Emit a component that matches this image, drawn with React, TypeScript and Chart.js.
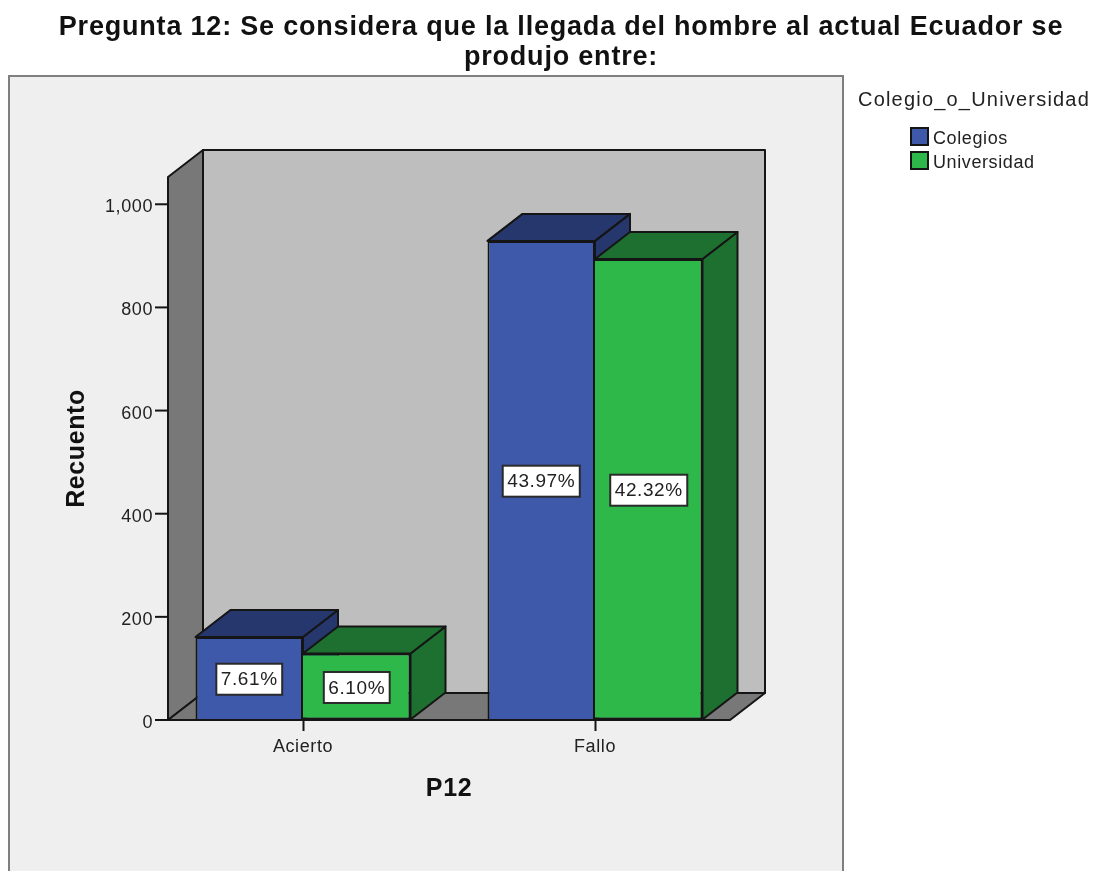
import React, { useEffect, useRef } from "react";
import { Chart, registerables } from "chart.js";

Chart.register(...registerables);

const categories = ["Acierto", "Fallo"];
const colegios = [161, 929];
const universidad = [129, 894];
const colegiosPct = ["7.61%", "43.97%"];
const universidadPct = ["6.10%", "42.32%"];
const titleLines = [
  "Pregunta 12: Se considera que la llegada del hombre al actual Ecuador se",
  "produjo entre:",
];
const legendTitle = "Colegio_o_Universidad";

const FONT = '"Liberation Sans", Arial, sans-serif';
const INK = "#151515";
const TEXT = "#222222";
const DX = 35;
const DY = 27;
const INSET = 11;

const poly = (ctx: CanvasRenderingContext2D, pts: number[][], fill: string) => {
  ctx.beginPath();
  pts.forEach((p, i) => (i ? ctx.lineTo(p[0], p[1]) : ctx.moveTo(p[0], p[1])));
  ctx.closePath();
  ctx.fillStyle = fill;
  ctx.fill();
  ctx.lineWidth = 2;
  ctx.strokeStyle = INK;
  ctx.lineJoin = "round";
  ctx.stroke();
};

const threeD = {
  id: "threeD",
  afterLayout(chart: any) {
    const tb = chart.titleBlock;
    tb.left = 28;
    tb.right = 1094;
    if (!tb.__wrapped) {
      tb.__wrapped = true;
      const draw = tb.draw;
      tb.draw = function (...args: any[]) {
        const c = chart.ctx;
        const prev = c.letterSpacing;
        c.letterSpacing = "0.8px";
        draw.apply(this, args);
        c.letterSpacing = prev;
      };
      const y = chart.scales.y;
      const labels = y.drawLabels;
      y.drawLabels = function (...args: any[]) {
        chart.ctx.save();
        chart.ctx.translate(0, 3);
        labels.apply(this, args);
        chart.ctx.restore();
      };
    }
  },
  beforeDraw(chart: any) {
    const { ctx } = chart;
    ctx.save();
    ctx.fillStyle = "#efefef";
    ctx.fillRect(9, 76, 834, 810);
    ctx.strokeStyle = "#7f7f7f";
    ctx.lineWidth = 2;
    ctx.strokeRect(9, 76, 834, 810);
    ctx.restore();
    ctx.letterSpacing = "0.6px";
  },
  beforeDatasetsDraw(chart: any) {
    const { ctx, chartArea: a, scales } = chart;
    const l = a.left + INSET;
    const r = a.right - INSET;
    const t = a.top;
    const b = a.bottom;
    ctx.save();
    poly(ctx, [[l + DX, t - DY], [r + DX, t - DY], [r + DX, b - DY], [l + DX, b - DY]], "#bebebe");
    poly(ctx, [[l, t], [l + DX, t - DY], [l + DX, b - DY], [l, b]], "#787878");
    poly(ctx, [[l, b], [l + DX, b - DY], [r + DX, b - DY], [r, b]], "#787878");
    ctx.strokeStyle = INK;
    ctx.lineWidth = 2;
    scales.y.ticks.forEach((tk: any) => {
      const y = scales.y.getPixelForValue(tk.value);
      ctx.beginPath();
      ctx.moveTo(l - 13, y);
      ctx.lineTo(l, y);
      ctx.stroke();
    });
    const n = chart.data.labels.length;
    for (let j = 0; j < n; j++) {
      chart.data.datasets.forEach((ds: any, i: number) => {
        const bar = chart.getDatasetMeta(i).data[j];
        const x0 = bar.x - bar.width / 2;
        const x1 = bar.x + bar.width / 2;
        poly(ctx, [[x1, bar.y], [x1 + DX, bar.y - DY], [x1 + DX, bar.base - DY], [x1, bar.base]], ds.shade);
        poly(ctx, [[x0, bar.y], [x0 + DX, bar.y - DY], [x1 + DX, bar.y - DY], [x1, bar.y]], ds.shade);
      });
    }
    ctx.restore();
  },
  afterDatasetsDraw(chart: any) {
    const { ctx, chartArea: a } = chart;
    ctx.save();
    ctx.strokeStyle = INK;
    ctx.lineWidth = 2;
    ctx.beginPath();
    ctx.moveTo(a.left + INSET, a.bottom);
    ctx.lineTo(a.right - INSET, a.bottom);
    ctx.stroke();
    ctx.font = `19px ${FONT}`;
    ctx.textAlign = "center";
    ctx.textBaseline = "middle";
    chart.data.datasets.forEach((ds: any, i: number) => {
      chart.getDatasetMeta(i).data.forEach((bar: any, j: number) => {
        const text = ds.pct[j];
        const w = ctx.measureText(text).width + 9;
        const h = 31;
        const cy = (bar.y + bar.base) / 2 + 1;
        ctx.fillStyle = "#ffffff";
        ctx.strokeStyle = "#2a2a2a";
        ctx.lineWidth = 2;
        ctx.fillRect(bar.x - w / 2, cy - h / 2, w, h);
        ctx.strokeRect(bar.x - w / 2, cy - h / 2, w, h);
        ctx.fillStyle = TEXT;
        ctx.fillText(text, bar.x, cy + 1);
      });
    });
    ctx.textAlign = "left";
    ctx.fillStyle = TEXT;
    ctx.letterSpacing = "1.2px";
    ctx.font = `20px ${FONT}`;
    ctx.fillText(legendTitle, 858, 100);
    ctx.letterSpacing = "0.6px";
    ctx.font = `18px ${FONT}`;
    chart.data.datasets.forEach((ds: any, i: number) => {
      const y = 128 + i * 24;
      ctx.fillStyle = ds.backgroundColor;
      ctx.strokeStyle = INK;
      ctx.lineWidth = 2;
      ctx.fillRect(911, y, 17, 17);
      ctx.strokeRect(911, y, 17, 17);
      ctx.fillStyle = TEXT;
      ctx.fillText(ds.label, 933, y + 11);
    });
    ctx.restore();
  },
};

export default function App() {
  const ref = useRef<HTMLCanvasElement>(null);
  useEffect(() => {
    const chart = new Chart(ref.current as HTMLCanvasElement, {
      type: "bar",
      data: {
        labels: categories,
        datasets: [
          {
            label: "Colegios",
            data: colegios,
            backgroundColor: "#3e58aa",
            shade: "#26376e",
            pct: colegiosPct,
            borderColor: INK,
            borderWidth: 2,
          } as any,
          {
            label: "Universidad",
            data: universidad,
            backgroundColor: "#2fb84a",
            shade: "#1d702f",
            pct: universidadPct,
            borderColor: INK,
            borderWidth: 2,
            borderSkipped: "left",
          } as any,
        ],
      },
      options: {
        responsive: false,
        animation: false,
        layout: { padding: { left: 0, right: 353, top: 0, bottom: 0 } },
        datasets: { bar: { categoryPercentage: 0.7363, barPercentage: 1 } },
        plugins: {
          legend: { display: false },
          tooltip: { enabled: false },
          title: {
            display: true,
            text: titleLines,
            color: "#111111",
            font: { family: FONT, size: 27, weight: "bold", lineHeight: 1.11 },
            padding: { top: 13, bottom: 104 },
          },
        },
        scales: {
          x: {
            type: "category",
            offset: true,
            afterFit: (s: any) => {
              s.height = 151;
            },
            border: { display: false },
            grid: { drawOnChartArea: false, drawTicks: true, tickLength: 11, tickWidth: 2, tickColor: INK, offset: false },
            ticks: { color: TEXT, font: { family: FONT, size: 18 }, padding: 5, maxRotation: 0 },
            title: {
              display: true,
              text: "P12",
              color: "#111111",
              font: { family: FONT, size: 25, weight: "bold", lineHeight: 1.2 },
              padding: { top: 0, bottom: 67 },
            },
          },
          y: {
            min: 0,
            max: 1053,
            afterFit: (s: any) => {
              s.width = 157;
            },
            border: { display: false },
            grid: { drawOnChartArea: false, drawTicks: false },
            ticks: { stepSize: 200, includeBounds: false, color: TEXT, font: { family: FONT, size: 18 }, padding: 4 },
            title: {
              display: true,
              text: "Recuento",
              color: "#111111",
              font: { family: FONT, size: 25, weight: "bold", lineHeight: 1.2 },
              padding: { top: 62, bottom: 0 },
            },
          },
        },
      },
      plugins: [threeD],
    } as any);
    return () => chart.destroy();
  }, []);
  return (
    <div style={{ position: "absolute", left: 0, top: 0 }}>
      <canvas ref={ref} width={1094} height={871} style={{ display: "block" }} />
    </div>
  );
}
